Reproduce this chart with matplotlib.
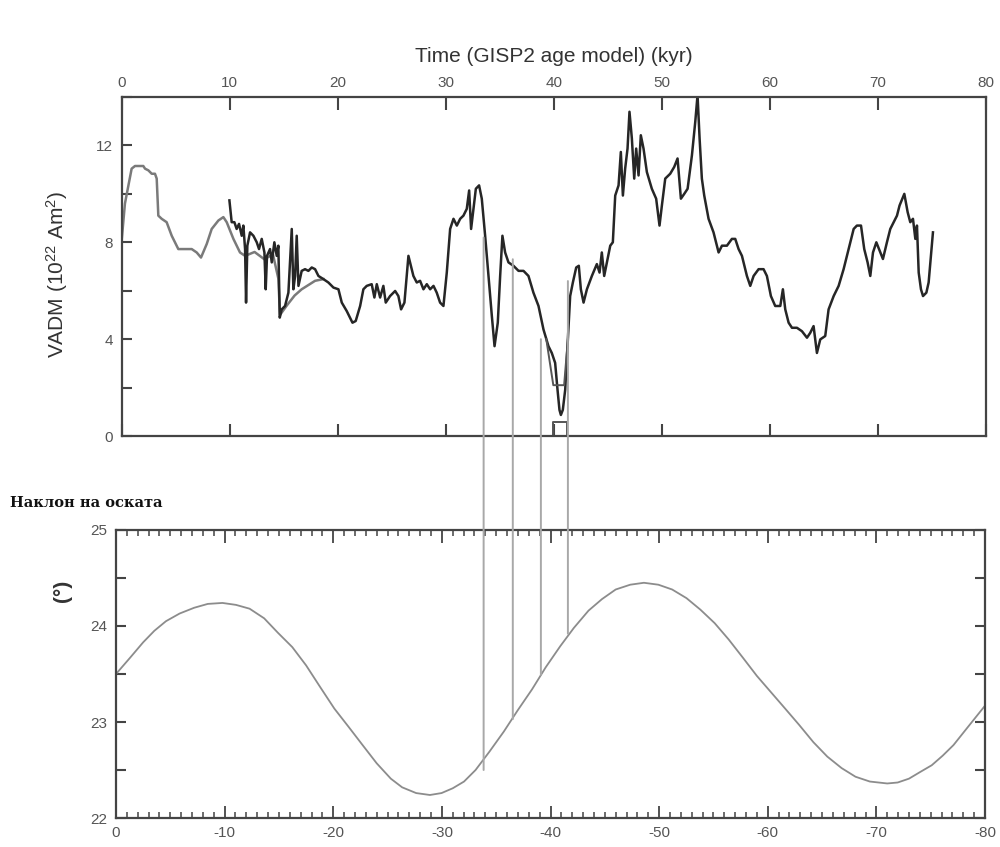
import matplotlib
matplotlib.use('Agg')
import matplotlib.pyplot as plt
from matplotlib.ticker import MultipleLocator, FixedLocator
from matplotlib.patches import ConnectionPatch
from matplotlib.transforms import blended_transform_factory

plt.rcParams['font.family'] = ['Liberation Sans', 'DejaVu Sans']
plt.rcParams['mathtext.default'] = 'regular'
plt.rcParams['axes.unicode_minus'] = False

#######################################
#      VADM records (10^22 Am^2)      #
#######################################

# smoother record, 0 - 18.7 kyr
vadm_a_age = [0.0, 0.3, 0.92, 1.23, 2.0, 2.16, 2.47, 2.78, 3.08, 3.24, 3.39, 3.7, 4.16,
              4.63, 5.24, 5.86, 6.48, 6.94, 7.34, 7.87, 8.33, 8.95, 9.41, 9.72, 10.34,
              10.95, 11.42, 12.3, 13.2, 14.0, 14.5, 14.65, 15.3, 16.0, 16.66, 17.9, 18.67]
vadm_a = [8.1, 9.6, 11.04, 11.15, 11.15, 11.04, 10.97, 10.83, 10.83, 10.63, 9.1, 8.97, 8.83,
          8.27, 7.72, 7.72, 7.72, 7.58, 7.37, 7.93, 8.55, 8.9, 9.04, 8.83, 8.14,
          7.58, 7.44, 7.6, 7.3, 7.5, 6.5, 5.0, 5.4, 5.8, 6.06, 6.41, 6.48]

# main record, 10 - 75 kyr
vadm_b_age = [9.97, 10.18, 10.43, 10.64, 10.86, 11.11, 11.26, 11.42, 11.51, 11.63, 11.88,
              12.19, 12.5, 12.71, 12.96, 13.21, 13.33, 13.45, 13.73, 13.89, 14.13, 14.35,
              14.5, 14.63, 14.81, 15.12, 15.43, 15.74, 15.89, 16.05, 16.2, 16.36, 16.66,
              16.97, 17.28, 17.59, 17.9, 18.21, 18.67, 19.13, 19.6, 20.06, 20.37, 20.83,
              21.36, 21.66, 22.07, 22.37, 22.68, 23.14, 23.39, 23.61, 23.92, 24.22, 24.44,
              24.84, 25.31, 25.61, 25.86, 26.17, 26.54, 27.0, 27.31, 27.62, 27.93, 28.24,
              28.55, 28.86, 29.16, 29.47, 29.78, 30.09, 30.4, 30.71, 31.02, 31.33, 31.63,
              31.94, 32.16, 32.34, 32.56, 32.78, 33.08, 33.33, 33.64, 33.95, 34.26, 34.51,
              34.81, 35.03, 35.24, 35.49, 35.8, 36.26, 36.73, 37.19, 37.65, 38.11, 38.58,
              39.04, 39.5, 39.81, 40.12, 40.34, 40.52, 40.65, 40.83, 41.05, 41.26, 41.51,
              41.76, 42.07, 42.31, 42.5, 42.75, 43.06, 43.52, 43.98, 44.23, 44.44, 44.66,
              44.91, 45.22, 45.46, 45.68, 45.99, 46.2, 46.39, 46.6, 46.82, 47.0, 47.22,
              47.44, 47.62, 47.84, 48.05, 48.3, 48.61, 49.07, 49.47, 49.78, 50.0, 50.31,
              50.77, 51.14, 51.45, 51.76, 52.07, 52.38, 52.78, 53.09, 53.3, 53.49, 53.7,
              53.92, 54.32, 54.78, 55.25, 55.56, 56.02, 56.48, 56.79, 57.1, 57.41, 57.87,
              58.18, 58.49, 58.95, 59.41, 59.72, 60.09, 60.49, 60.96, 61.2, 61.42, 61.73,
              62.04, 62.5, 62.96, 63.43, 63.73, 64.04, 64.35, 64.66, 65.12, 65.43, 65.9,
              66.36, 66.82, 67.28, 67.75, 68.05, 68.43, 68.73, 69.04, 69.29, 69.54, 69.85,
              70.22, 70.46, 70.83, 71.14, 71.45, 71.76, 72.0, 72.44, 72.75, 72.99, 73.24,
              73.46, 73.61, 73.77, 73.98, 74.17, 74.48, 74.69, 75.09]
vadm_b = [9.73, 8.83, 8.83, 8.55, 8.76, 8.27, 8.69, 7.72, 5.51, 7.86, 8.41,
          8.27, 8.0, 7.72, 8.14, 7.58, 6.06, 7.44, 7.72, 7.17, 8.0, 7.44,
          7.86, 4.89, 5.23, 5.37, 5.92, 8.55, 6.06, 6.61, 8.27, 6.2, 6.82,
          6.89, 6.82, 6.96, 6.89, 6.61, 6.48, 6.34, 6.13, 6.06, 5.51, 5.16,
          4.68, 4.75, 5.37, 6.06, 6.2, 6.27, 5.72, 6.27, 5.72, 6.2, 5.51,
          5.78, 5.99, 5.78, 5.23, 5.51, 7.44, 6.61, 6.34, 6.41, 6.06, 6.27,
          6.06, 6.2, 5.92, 5.51, 5.37, 6.75, 8.55, 8.97, 8.69, 8.97, 9.1,
          9.38, 10.14, 8.55, 9.38, 10.21, 10.35, 9.8, 8.27, 6.61, 4.96, 3.71,
          4.68, 6.61, 8.27, 7.58, 7.17, 7.03, 6.82, 6.82, 6.61, 5.92, 5.37,
          4.4, 3.71, 3.43, 3.02, 1.91, 1.08, 0.87, 1.08, 1.91, 3.71, 5.78,
          6.34, 6.96, 7.03, 6.06, 5.51, 6.06, 6.61, 7.1, 6.75, 7.58, 6.61,
          7.17, 7.86, 8.0, 9.93, 10.35, 11.73, 9.93, 11.04, 11.87, 13.39, 12.29,
          10.63, 11.87, 10.76, 12.42, 11.87, 10.9, 10.21, 9.8, 8.69, 9.52, 10.63,
          10.83, 11.11, 11.46, 9.8, 10.0, 10.21, 11.59, 12.98, 14.08, 12.29, 10.63,
          9.93, 8.97, 8.41, 7.58, 7.86, 7.86, 8.14, 8.14, 7.72, 7.44, 6.61,
          6.2, 6.61, 6.89, 6.89, 6.61, 5.78, 5.37, 5.37, 6.06, 5.23, 4.68,
          4.47, 4.47, 4.33, 4.06, 4.26, 4.54, 3.43, 3.99, 4.13, 5.23, 5.78,
          6.2, 6.89, 7.72, 8.55, 8.69, 8.69, 7.72, 7.17, 6.61, 7.58, 8.0,
          7.58, 7.31, 8.0, 8.55, 8.83, 9.1, 9.52, 10.0, 9.24, 8.83, 8.97,
          8.14, 8.69, 6.75, 6.06, 5.78, 5.92, 6.34, 8.41]

# second record through the Laschamp minimum
dip_age = [39.3, 39.95, 40.95, 41.3]
dip = [4.0, 2.1, 2.1, 4.0]
box_age = [39.95, 39.95, 41.25, 41.25]
box = [0.0, 0.6, 0.6, 0.0]

#######################################
#      obliquity (degrees)            #
#######################################
obl_age = [0, -1.3, -2.5, -3.53, -4.6, -5.86, -7.2, -8.45, -9.8, -11.04, -12.3, -13.64,
           -14.9, -16.23, -17.5, -18.82, -20.1, -21.41, -22.7, -24.0, -25.3, -26.34,
           -27.63, -28.9, -29.97, -31.0, -32.04, -33.1, -34.37, -35.7, -36.97, -38.3,
           -39.56, -40.9, -42.15, -43.5, -44.74, -46.0, -47.34, -48.6, -49.93, -51.2,
           -52.52, -53.8, -55.11, -56.4, -57.71, -59.0, -60.3, -61.6, -62.89, -64.2,
           -65.48, -66.8, -68.08, -69.4, -71.0, -71.96, -73.0, -74.04, -75.1, -76.11,
           -77.1, -78.44, -80]
obliquity = [23.50, 23.67, 23.83, 23.95, 24.05, 24.13, 24.19, 24.23, 24.24, 24.22, 24.18,
             24.08, 23.93, 23.78, 23.59, 23.36, 23.14, 22.95, 22.76, 22.57, 22.41, 22.32,
             22.26, 22.24, 22.26, 22.31, 22.38, 22.50, 22.69, 22.90, 23.12, 23.34,
             23.57, 23.79, 23.98, 24.16, 24.28, 24.38, 24.43, 24.45, 24.43, 24.38,
             24.29, 24.17, 24.03, 23.86, 23.67, 23.48, 23.31, 23.14, 22.97, 22.79,
             22.64, 22.52, 22.43, 22.38, 22.36, 22.37, 22.41, 22.48, 22.55, 22.65,
             22.76, 22.95, 23.17]

# tie lines between the two panels
link_age = [33.5, 36.2, 38.8, 41.3]
link_vadm = [8.2, 7.3, 4.0, 6.4]
link_obl = [22.5, 23.03, 23.49, 23.92]

spine_col = '#444444'
tick_col = '#555555'

fig = plt.figure(figsize=(10, 8.47), dpi=100)

##############################
#      top panel: VADM       #
##############################
ax1 = fig.add_axes([0.1217, 0.4852, 0.8643, 0.4003])
ax1.plot(vadm_a_age, vadm_a, color='#7a7a7a', lw=1.8)
ax1.plot(vadm_b_age, vadm_b, color='#262626', lw=1.8)
ax1.plot(dip_age, dip, color='#555555', lw=1.4)
ax1.plot(box_age, box, color='#555555', lw=1.4)
ax1.set_xlim(0, 80)
ax1.set_ylim(0, 14)
ax1.xaxis.tick_top()
ax1.xaxis.set_label_position('top')
ax1.set_xticks(range(0, 81, 10))
ax1.yaxis.set_major_locator(FixedLocator([0, 4, 8, 12]))
ax1.yaxis.set_minor_locator(FixedLocator([2, 6, 10, 14]))
ax1.tick_params(axis='x', which='both', direction='in', top=True, bottom=True,
                labeltop=True, labelbottom=False, length=9, width=1.5, pad=5,
                labelsize=11, labelcolor=tick_col, color=spine_col)
ax1.tick_params(axis='y', which='both', direction='in', left=True, right=False,
                length=7, width=1.5, pad=6, labelsize=11, labelcolor=tick_col,
                color=spine_col)
ax1.set_xlabel('Time (GISP2 age model) (kyr)', fontsize=15, color='#333333', labelpad=10)
ax1.set_ylabel('VADM (10$^{22}$ Am$^2$)', fontsize=15, color='#333333')
ax1.yaxis.set_label_coords(-0.06, 0.475)

##############################
#    bottom panel: obliquity #
##############################
ax2 = fig.add_axes([0.116, 0.0342, 0.869, 0.3401])
ax2.plot(obl_age, obliquity, color='#8c8c8c', lw=1.3)
ax2.set_xlim(0, -80)
ax2.set_ylim(22, 25)
ax2.set_xticks(range(0, -81, -10))
ax2.xaxis.set_minor_locator(MultipleLocator(1))
ax2.set_yticks([22, 23, 24, 25])
ax2.yaxis.set_minor_locator(MultipleLocator(0.5))
ax2.tick_params(axis='x', which='major', direction='in', top=True, bottom=True,
                length=9, width=1.3, pad=6, labelsize=11, labelcolor=tick_col,
                color=spine_col)
ax2.tick_params(axis='x', which='minor', direction='in', top=True, bottom=True,
                length=4.5, width=1.1, color=spine_col)
ax2.tick_params(axis='y', which='both', direction='in', left=True, right=True,
                length=7, width=1.5, pad=6, labelsize=11, labelcolor=tick_col,
                color=spine_col)
ax2.set_ylabel('(°)', fontsize=15, fontweight='bold', color='#333333')
ax2.yaxis.set_label_coords(-0.051, 0.79)

for ax in (ax1, ax2):
    for sp in ax.spines.values():
        sp.set_color(spine_col)
        sp.set_linewidth(1.6)

fig.text(0.01, 1 - 507 / 847, 'Наклон на оската', fontsize=10.5, fontweight='bold',
         family=['DejaVu Serif'], va='baseline', color='#111111')

###### tie lines drawn across both panels ######
trans_b = blended_transform_factory(ax1.transData, ax2.transData)
for t, v, o in zip(link_age, link_vadm, link_obl):
    con = ConnectionPatch(xyA=(t, v), coordsA=ax1.transData,
                          xyB=(t, o), coordsB=trans_b,
                          color='#a8a8a8', lw=1.4)
    fig.add_artist(con)

fig.savefig('out.png', dpi=100)
